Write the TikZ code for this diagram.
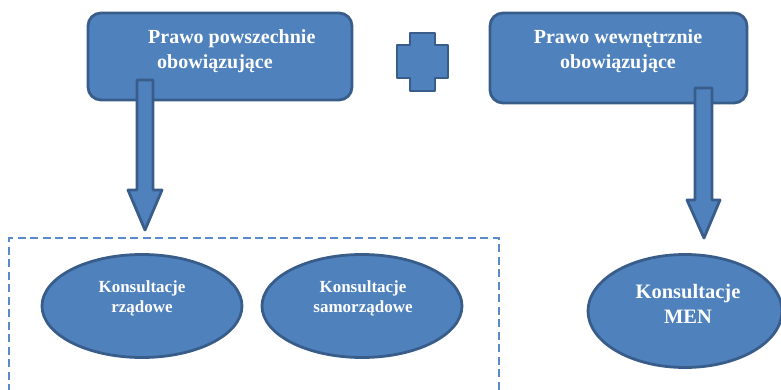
\documentclass[tikz,border=0pt]{standalone}
\usepackage{fontspec}
\setmainfont{Liberation Serif}
\usetikzlibrary{shapes.geometric}
\definecolor{bfill}{HTML}{4F81BD}
\definecolor{bline}{HTML}{385D8A}
\definecolor{dline}{HTML}{5A8ACB}
\tikzset{
  shp/.style={fill=bfill, draw=bline, line width=2.8pt, line join=round},
  boxtxt/.style={text=white, font=\bfseries\fontsize{20}{25}\selectfont, inner sep=0pt},
  elltxt/.style={text=white, font=\bfseries\fontsize{17}{20}\selectfont, inner sep=0pt, align=center},
  menl/.style={ellipse, shp, minimum width=194pt, minimum height=113pt}
}
\begin{document}
\begin{tikzpicture}[x=1pt,y=-1pt]
\useasboundingbox (0,0) rectangle (781,390);
% top boxes
\draw[shp, rounded corners=13pt] (88,13) rectangle (352,100);
\coordinate (b1) at (220,56);
\draw[shp, rounded corners=13pt] (490,13) rectangle (747,103);
\coordinate (b2) at (618,58);
% arrows
\draw[shp] (137,80) -- (153,80) -- (153,190) -- (162,190) -- (145,230) -- (128,190) -- (137,190) -- cycle;
\draw[shp] (695,88) -- (712,88) -- (712,200) -- (720,200) -- (704,238) -- (687,200) -- (695,200) -- cycle;
\node[boxtxt, align=left, anchor=west] (t1) at (148,51) {Prawo powszechnie\\\hspace*{9pt}obowiązujące};
\node[boxtxt, align=center] (t2) at (618,51) {Prawo wewnętrznie\\obowiązujące};
% plus
\draw[shp] (410,33) -- (435,33) -- (435,45) -- (448,45) -- (448,78) -- (435,78) -- (435,91) -- (410,91) -- (410,78) -- (397,78) -- (397,45) -- (410,45) -- cycle;
% dashed frame
\draw[dline, line width=2.6pt, dash pattern=on 8pt off 4.5pt] (9,392) -- (9,238) -- (499,238) -- (499,392);
% ellipses
\node[ellipse, shp, minimum width=200pt, minimum height=103pt] (e1) at (142,306) {};
\node[ellipse, shp, minimum width=200pt, minimum height=103pt] (e2) at (362,306) {};
\node[menl] (e3) at (685,311) {};
\node[elltxt] at (142,298) {Konsultacje\\rządowe};
\node[elltxt] at (363,298) {Konsultacje\\samorządowe};
\node[elltxt, font=\bfseries\fontsize{20.5}{25}\selectfont] at (688,304) {Konsultacje\\MEN};
\end{tikzpicture}
\end{document}
